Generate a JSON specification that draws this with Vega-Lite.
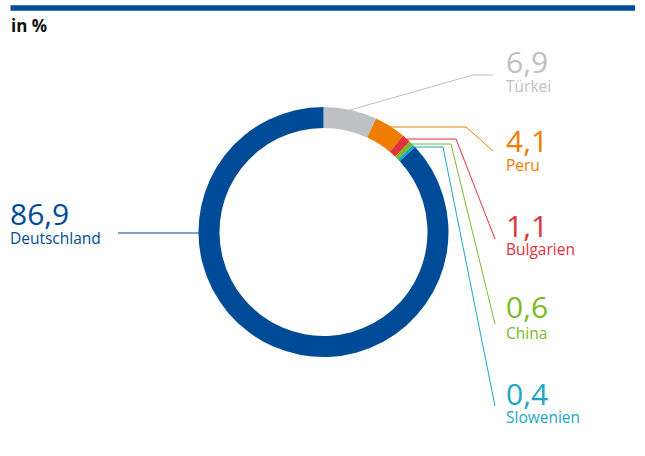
{
  "$schema": "https://vega.github.io/schema/vega-lite/v6.json",
  "width": 645,
  "height": 456,
  "autosize": {"type": "fit", "contains": "padding"},
  "padding": 0,
  "background": "white",
  "config": {"view": {"stroke": null}, "font": "Open Sans"},
  "datasets": {
    "shares": [
      {"land": "Türkei", "wert": 6.9, "i": 1},
      {"land": "Peru", "wert": 4.1, "i": 2},
      {"land": "Bulgarien", "wert": 1.1, "i": 3},
      {"land": "China", "wert": 0.6, "i": 4},
      {"land": "Slowenien", "wert": 0.4, "i": 5},
      {"land": "Deutschland", "wert": 86.9, "i": 6}
    ],
    "leaders": [
      {"land": "Türkei", "p": 1, "px": 350, "py": 110},
      {"land": "Türkei", "p": 2, "px": 473, "py": 75},
      {"land": "Türkei", "p": 3, "px": 493, "py": 75},
      {"land": "Peru", "p": 1, "px": 390, "py": 127},
      {"land": "Peru", "p": 2, "px": 466, "py": 127},
      {"land": "Peru", "p": 3, "px": 493, "py": 151},
      {"land": "Bulgarien", "p": 1, "px": 407, "py": 139},
      {"land": "Bulgarien", "p": 2, "px": 456, "py": 139},
      {"land": "Bulgarien", "p": 3, "px": 495, "py": 239},
      {"land": "China", "p": 1, "px": 411, "py": 144},
      {"land": "China", "p": 2, "px": 451, "py": 144},
      {"land": "China", "p": 3, "px": 495, "py": 324},
      {"land": "Slowenien", "p": 1, "px": 413, "py": 147},
      {"land": "Slowenien", "p": 2, "px": 443, "py": 147},
      {"land": "Slowenien", "p": 3, "px": 495, "py": 406},
      {"land": "Deutschland", "p": 1, "px": 118, "py": 233},
      {"land": "Deutschland", "p": 2, "px": 200, "py": 233}
    ],
    "labels": [
      {"land": "Türkei", "num": "6,9", "tx": 506, "ny": 73, "my": 92},
      {"land": "Peru", "num": "4,1", "tx": 506, "ny": 152, "my": 171},
      {"land": "Bulgarien", "num": "1,1", "tx": 506, "ny": 237, "my": 255},
      {"land": "China", "num": "0,6", "tx": 506, "ny": 318, "my": 339},
      {"land": "Slowenien", "num": "0,4", "tx": 506, "ny": 405, "my": 423},
      {"land": "Deutschland", "num": "86,9", "tx": 10, "ny": 225, "my": 244}
    ]
  },
  "layer": [
    {
      "data": {"values": [{}]},
      "mark": {"type": "rect", "color": "#004B97"},
      "encoding": {
        "x": {"datum": 10.5, "type": "quantitative", "scale": {"domain": [0, 645], "nice": false}, "axis": null},
        "x2": {"datum": 635},
        "y": {"datum": 5.3, "type": "quantitative", "scale": {"domain": [0, 456], "nice": false, "reverse": true}, "axis": null},
        "y2": {"datum": 10.7}
      }
    },
    {
      "data": {"values": [{}]},
      "mark": {"type": "text", "text": "in %", "fontSize": 17, "fontWeight": "bold", "color": "#111111", "align": "left", "baseline": "alphabetic"},
      "encoding": {
        "x": {"datum": 11, "type": "quantitative", "scale": {"domain": [0, 645], "nice": false}, "axis": null},
        "y": {"datum": 31.5, "type": "quantitative", "scale": {"domain": [0, 456], "nice": false, "reverse": true}, "axis": null}
      }
    },
    {
      "data": {"name": "shares"},
      "mark": {"type": "arc", "outerRadius": 125, "innerRadius": 104, "stroke": null},
      "encoding": {
        "theta": {"field": "wert", "type": "quantitative", "stack": true},
        "order": {"field": "i", "type": "quantitative"},
        "color": {"field": "land", "type": "nominal", "legend": null,
          "scale": {"domain": ["Türkei", "Peru", "Bulgarien", "China", "Slowenien", "Deutschland"],
                    "range": ["#BDC1C4", "#EF7D00", "#E3313D", "#7DB928", "#1AA6C5", "#004B97"]}},
        "x": {"datum": 323.5, "type": "quantitative", "scale": {"domain": [0, 645], "nice": false}, "axis": null},
        "y": {"datum": 232, "type": "quantitative", "scale": {"domain": [0, 456], "nice": false, "reverse": true}, "axis": null}
      }
    },
    {
      "data": {"name": "leaders"},
      "mark": {"type": "line", "strokeWidth": 1},
      "encoding": {
        "x": {"field": "px", "type": "quantitative", "scale": {"domain": [0, 645], "nice": false}, "axis": null},
        "y": {"field": "py", "type": "quantitative", "scale": {"domain": [0, 456], "nice": false, "reverse": true}, "axis": null},
        "order": {"field": "p", "type": "quantitative"},
        "detail": {"field": "land", "type": "nominal"},
        "color": {"field": "land", "type": "nominal", "legend": null,
          "scale": {"domain": ["Türkei", "Peru", "Bulgarien", "China", "Slowenien", "Deutschland"],
                    "range": ["#BDC1C4", "#EF7D00", "#E3313D", "#7DB928", "#1AA6C5", "#004B97"]}}
      }
    },
    {
      "data": {"name": "labels"},
      "mark": {"type": "text", "fontSize": 30, "align": "left", "baseline": "alphabetic"},
      "encoding": {
        "x": {"field": "tx", "type": "quantitative", "scale": {"domain": [0, 645], "nice": false}, "axis": null},
        "y": {"field": "ny", "type": "quantitative", "scale": {"domain": [0, 456], "nice": false, "reverse": true}, "axis": null},
        "text": {"field": "num"},
        "color": {"field": "land", "type": "nominal", "legend": null,
          "scale": {"domain": ["Türkei", "Peru", "Bulgarien", "China", "Slowenien", "Deutschland"],
                    "range": ["#BDC1C4", "#EF7D00", "#E3313D", "#7DB928", "#1AA6C5", "#004B97"]}}
      }
    },
    {
      "data": {"name": "labels"},
      "mark": {"type": "text", "fontSize": 15.5, "align": "left", "baseline": "alphabetic"},
      "encoding": {
        "x": {"field": "tx", "type": "quantitative", "scale": {"domain": [0, 645], "nice": false}, "axis": null},
        "y": {"field": "my", "type": "quantitative", "scale": {"domain": [0, 456], "nice": false, "reverse": true}, "axis": null},
        "text": {"field": "land"},
        "color": {"field": "land", "type": "nominal", "legend": null,
          "scale": {"domain": ["Türkei", "Peru", "Bulgarien", "China", "Slowenien", "Deutschland"],
                    "range": ["#BDC1C4", "#EF7D00", "#E3313D", "#7DB928", "#1AA6C5", "#004B97"]}}
      }
    }
  ]
}
